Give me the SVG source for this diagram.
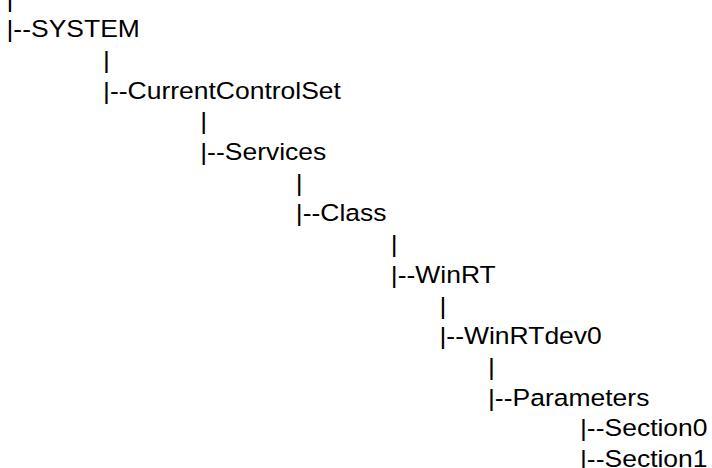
<svg xmlns="http://www.w3.org/2000/svg" width="712" height="468" viewBox="0 0 712 468">
<style>
text { font-family: "Liberation Sans", Arial, sans-serif; font-size: 23.3px; fill: #000; }
</style>
<rect width="712" height="468" fill="#fff"/>
<g id="tree" transform="scale(1.137,1)">
<g id="connectors">
<text x="5.7" y="6.6">|</text>
<text x="90.6" y="68">|</text>
<text x="176.1" y="129.4">|</text>
<text x="260.2" y="190.8">|</text>
<text x="343.7" y="252.2">|</text>
<text x="386.5" y="313.6">|</text>
<text x="429.2" y="375">|</text>
</g>
<g id="n-system"><text x="5.7" y="37.3">|--SYSTEM</text></g>
<g id="n-ccs"><text x="90.6" y="98.7">|--CurrentControlSet</text></g>
<g id="n-services"><text x="176.1" y="160.1">|--Services</text></g>
<g id="n-class"><text x="260.2" y="221.5">|--Class</text></g>
<g id="n-winrt"><text x="343.7" y="282.9">|--WinRT</text></g>
<g id="n-winrtdev0"><text x="386.5" y="344.3">|--WinRTdev0</text></g>
<g id="n-parameters"><text x="429.2" y="405.7">|--Parameters</text></g>
<g id="n-section0"><text x="510.1" y="436.4">|--Section0</text></g>
<g id="n-section1"><text x="510.1" y="467.1">|--Section1</text></g>
</g>
</svg>
